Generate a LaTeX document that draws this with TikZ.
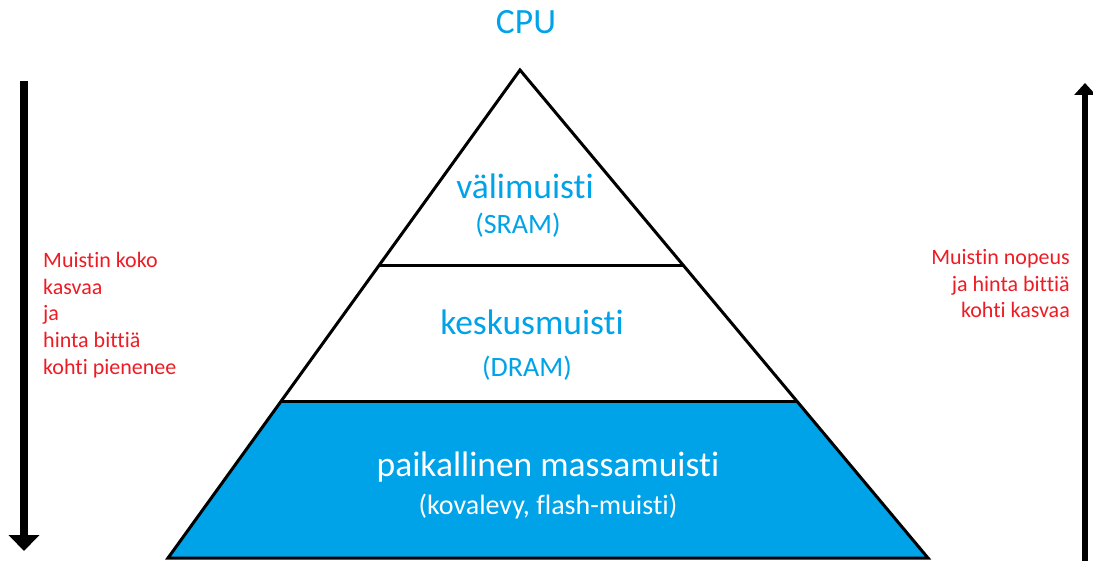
\documentclass[tikz,border=0pt]{standalone}
\usepackage{fontspec}
\setmainfont[Ligatures=NoCommon,RawFeature={-liga}]{Carlito}
\usetikzlibrary{arrows.meta,calc}
\definecolor{pblue}{HTML}{00A2E8}
\definecolor{pred}{HTML}{ED1C24}
\begin{document}
\begin{tikzpicture}[x=1pt,y=-1pt,
  edge/.style={line width=3pt,line join=miter},
  big/.style={text=pblue,font=\fontsize{35.5}{42}\selectfont,inner sep=0pt},
  sub/.style={text=pblue,font=\fontsize{28}{33}\selectfont,inner sep=0pt},
  note/.style={text=pred,font=\fontsize{22}{26.7}\selectfont,inner sep=0pt}]
\useasboundingbox (0,0) rectangle (1093,561);
% pyramid corners
\coordinate (apex) at (520,70);
\coordinate (bl) at (168,558);
\coordinate (br) at (928,558);
\coordinate (l1) at ($(apex)!0.3996!(bl)$);
\coordinate (r1) at ($(apex)!0.3996!(br)$);
\coordinate (l2) at ($(apex)!0.6803!(bl)$);
\coordinate (r2) at ($(apex)!0.6803!(br)$);
\fill[pblue] (l2) -- (r2) -- (br) -- (bl) -- cycle;
\draw[edge] (apex) -- (br) -- (bl) -- cycle;
\draw[edge] (l1) -- (r1);
\draw[edge] (l2) -- (r2);
% labels
\node[big] (cpu) at (526,22) {CPU};
\node[big] (vali) at (525,186) {välimuisti};
\node[sub] (sram) at (518,225) {(SRAM)};
\node[big] (kesk) at (532,322) {keskusmuisti};
\node[sub] (dram) at (527,368) {(DRAM)};
\node[big,text=white] (mass) at (548,467) {paikallinen massamuisti};
\node[sub,text=white] (kova) at (548,507) {(kovalevy, flash-muisti)};
% notes
\node[note,anchor=north west,align=left] (lnote) at (43,252) {Muistin koko\\kasvaa\\ja\\hinta bittiä\\kohti pienenee};
\node[note,anchor=north east,align=right] (rnote) at (1070,249) {Muistin nopeus\\ja hinta bittiä\\kohti kasvaa};
% arrows
\coordinate (la) at (24,81);
\coordinate (lb) at (24,551);
\coordinate (ra) at (1085,565);
\coordinate (rb) at (1085,83);
\draw[line width=8pt,-{Triangle[width=30pt,length=16pt]}] (la) -- (lb);
\draw[line width=6pt,-{Triangle[width=21pt,length=12pt]}] (ra) -- (rb);
\end{tikzpicture}
\end{document}
